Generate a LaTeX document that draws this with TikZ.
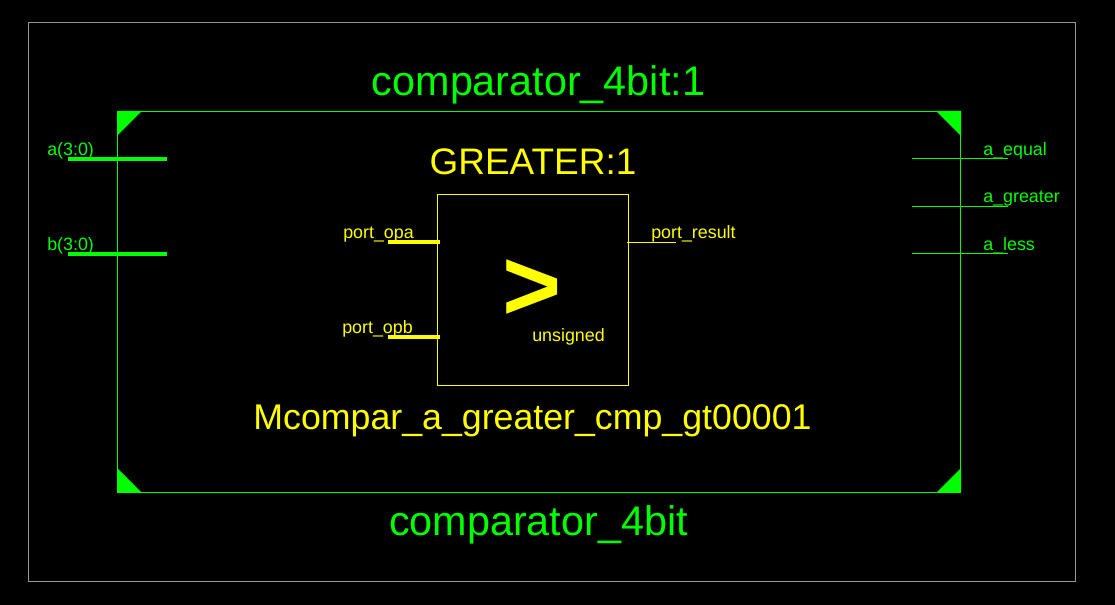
\documentclass[tikz,border=0pt]{standalone}
\usepackage{fontspec}
\setmainfont{Liberation Sans}
\usepackage{tikz}
\usetikzlibrary{positioning}
\definecolor{rtlgreen}{RGB}{0,255,0}
\definecolor{rtlyellow}{RGB}{255,255,0}
\definecolor{rtlgray}{RGB}{150,150,150}
\tikzset{
  block/.style={draw, rectangle, fill=none, inner sep=0pt, line width=0.75pt},
  corner/.style={fill=rtlgreen, draw=none},
  wire/.style={line width=0.75pt},
  bus/.style={line width=3pt},
  port/.style={anchor=base west, inner sep=0pt, font=\fontsize{13.4}{15}\selectfont},
  bigname/.style={anchor=base, inner sep=0pt, font=\fontsize{31}{36}\selectfont, text=rtlgreen},
  subname/.style={anchor=base, inner sep=0pt, text=rtlyellow},
}
\begin{document}
\begin{tikzpicture}[x=0.75pt, y=-0.75pt]
    \useasboundingbox [fill=black] (0,0) rectangle (1115,605);
    \node [block, draw=rtlgray, minimum width=785.25pt, minimum height=419.25pt] (frame) at (552,302) {};
    \node [block, draw=rtlgreen, minimum width=632.25pt, minimum height=285.75pt] (top) at (539,302) {};
    \node [block, draw=rtlyellow, minimum width=143.25pt, minimum height=143.25pt] (cmp) at (533,290) {};
    % corner marks
    \fill [corner] (top.north west) -- ++(25,0) -- ++(-25,25) -- cycle;
    \fill [corner] (top.north east) -- ++(-25,0) -- ++(25,25) -- cycle;
    \fill [corner] (top.south west) -- ++(25,0) -- ++(-25,-25) -- cycle;
    \fill [corner] (top.south east) -- ++(-25,0) -- ++(25,-25) -- cycle;
    % titles
    \node [bigname] (inst) at (538.5,96) {comparator\_4bit:1};
    \node [bigname] (type) at (538.5,535.5) {comparator\_4bit};
    \node [subname, font=\fontsize{27.7}{32}\selectfont] (greater) at (533,175) {GREATER:1};
    \node [subname, font=\fontsize{26.8}{32}\selectfont] (mcompar) at (532.5,430) {Mcompar\_a\_greater\_cmp\_gt00001};
    \node [anchor=base, inner sep=0pt, text=rtlyellow, font=\fontsize{76}{90}\bfseries\selectfont] (gt) at (532.5,321) {>};
    \node [port, text=rtlyellow] (unsigned) at (532,342) {unsigned};
    % top level ports
    \coordinate (a0) at (68,159);     \coordinate (a1) at (167,159);
    \coordinate (b0) at (68,254.5);   \coordinate (b1) at (167,254.5);
    \coordinate (eq0) at (912,158.5); \coordinate (eq1) at (1008,158.5);
    \coordinate (gr0) at (912,206.5); \coordinate (gr1) at (1008,206.5);
    \coordinate (ls0) at (912,253.5); \coordinate (ls1) at (1008,253.5);
    \draw [bus, rtlgreen] (a0) -- (a1);
    \draw [bus, rtlgreen] (b0) -- (b1);
    \draw [wire, rtlgreen] (eq0) -- (eq1);
    \draw [wire, rtlgreen] (gr0) -- (gr1);
    \draw [wire, rtlgreen] (ls0) -- (ls1);
    \node [port, text=rtlgreen] (alabel) at (47,155.5) {a(3:0)};
    \node [port, text=rtlgreen] (blabel) at (47,250.5) {b(3:0)};
    \node [port, text=rtlgreen] (eqlabel) at (983,155.5) {a\_equal};
    \node [port, text=rtlgreen] (grlabel) at (983,202.5) {a\_greater};
    \node [port, text=rtlgreen] (lslabel) at (983,250.5) {a\_less};
    % comparator ports
    \coordinate (opa0) at (388,242);
    \coordinate (opa1) at (440,242);
    \coordinate (opb0) at (388,337);
    \coordinate (opb1) at (440,337);
    \coordinate (res0) at (627,242.5);
    \coordinate (res1) at (676,242.5);
    \draw [bus, rtlyellow] (opa0) -- (opa1);
    \draw [bus, rtlyellow] (opb0) -- (opb1);
    \draw [wire, rtlyellow] (res0) -- (res1);
    \node [port, text=rtlyellow] (opalabel) at (343,238.5) {port\_opa};
    \node [port, text=rtlyellow] (opblabel) at (342,333.5) {port\_opb};
    \node [port, text=rtlyellow] (reslabel) at (651,238.5) {port\_result};
\end{tikzpicture}
\end{document}
